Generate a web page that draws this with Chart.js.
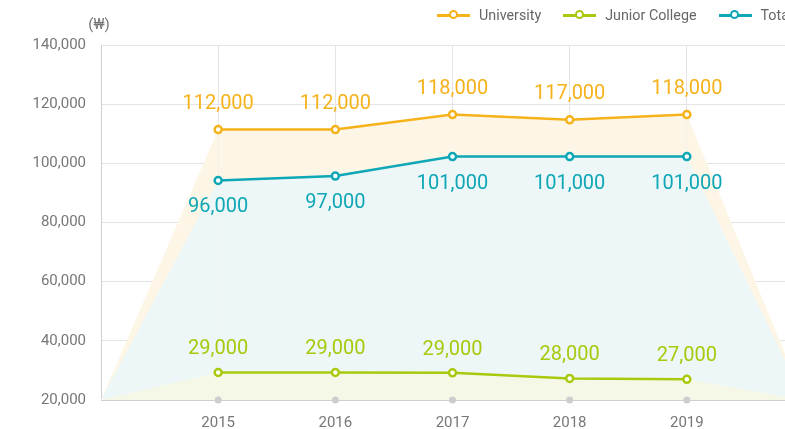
<!DOCTYPE html>
<html>
<head>
<meta charset="utf-8">
<script src="https://cdn.jsdelivr.net/npm/chart.js"></script>
<style>
  html, body { margin: 0; padding: 0; background: #fff; overflow: hidden; }
  #wrap { position: relative; width: 785px; height: 429px; overflow: hidden; }
  #chart { position: absolute; left: 0; top: 0; }
  #legend { position: absolute; top: 6px; left: 437px; display: flex; gap: 22px; font: 14.3px Roboto, sans-serif; color: #666; white-space: nowrap; }
  .item { display: flex; align-items: center; height: 18px; }
  .mark { position: relative; width: 33px; height: 3px; margin-right: 9px; }
  .mark i { position: absolute; left: 11.5px; top: -3.5px; width: 5px; height: 5px; border: 2.5px solid; border-radius: 50%; background: #fff; }
</style>
</head>
<body>
<div id="wrap">
  <canvas id="chart" width="818" height="429"></canvas>
  <div id="legend"></div>
</div>
<script>
// empty categories at both ends carry the area fill down to the axis
const years = ['', '2015', '2016', '2017', '2018', '2019', ''];
const university = [20000, 111400, 111400, 116500, 114700, 116500, 20000];
const juniorCollege = [20000, 29300, 29300, 29200, 27300, 27000, 20000];
const total = [20000, 94200, 95700, 102300, 102300, 102300, 20000];

// numbers printed next to the points
const universityLabels = [null, 112000, 112000, 118000, 117000, 118000, null];
const juniorLabels = [null, 29000, 29000, 29000, 28000, 27000, null];
const totalLabels = [null, 96000, 97000, 101000, 101000, 101000, null];

const axisDots = [null, 20000, 20000, 20000, 20000, 20000, null];
const yTicks = [20000, 40000, 60000, 80000, 100000, 120000, 140000];
const unitLabel = '(₩)';

const isYear = i => years[i] !== '';

function series(label, data, labels, color, fillColor, order, labelOffset) {
    return {
        label: label,
        data: data,
        order: order,
        valueLabels: labels,
        labelOffset: labelOffset,
        borderColor: color,
        backgroundColor: fillColor,
        borderWidth: 2.5,
        fill: 'start',
        tension: 0,
        pointRadius: ctx => isYear(ctx.dataIndex) ? 3.5 : 0,
        pointBorderWidth: 2.5,
        pointBackgroundColor: '#fff',
        pointBorderColor: color,
        segment: {
            borderColor: ctx => (isYear(ctx.p0DataIndex) && isYear(ctx.p1DataIndex)) ? color : 'transparent'
        }
    };
}

const uniSet = series('University', university, universityLabels, '#f6b21b', '#fdf6e6', 3, -26);
const juniorSet = series('Junior College', juniorCollege, juniorLabels, '#a8c90e', '#f6f8e7', 1, -23);
const totalSet = series('Total', total, totalLabels, '#0ea7b6', '#eef7f7', 2, 27);

const valueLabels = {
    id: 'valueLabels',
    afterDatasetsDraw(chart) {
        const ctx = chart.ctx;
        ctx.save();
        ctx.font = '20px Roboto';
        ctx.textAlign = 'center';
        ctx.textBaseline = 'middle';
        chart.data.datasets.forEach((ds, i) => {
            if (!ds.valueLabels) return;
            chart.getDatasetMeta(i).data.forEach((pt, j) => {
                const v = ds.valueLabels[j];
                if (v == null) return;
                ctx.fillStyle = ds.borderColor;
                ctx.fillText(v.toLocaleString('en-US'), pt.x, pt.y + ds.labelOffset);
            });
        });
        ctx.font = '15px Roboto';
        ctx.fillStyle = '#777';
        ctx.fillText(unitLabel, chart.chartArea.left - 2, chart.chartArea.top - 20);
        ctx.restore();
    }
};

const chart = new Chart(document.getElementById('chart'), {
    type: 'line',
    data: {
        labels: years,
        datasets: [
            uniSet, juniorSet, totalSet,
            {
                label: 'axis',
                data: axisDots,
                order: 0,
                showLine: false,
                fill: false,
                clip: false,
                pointRadius: 3.5,
                pointBorderWidth: 0,
                pointBackgroundColor: '#cdcdcd'
            }
        ]
    },
    options: {
        responsive: false,
        animation: false,
        events: [],
        layout: { padding: { top: 45, left: 0, right: 0, bottom: 0 } },
        plugins: {
            legend: { display: false },
            tooltip: { enabled: false }
        },
        scales: {
            x: {
                grid: { color: '#e4e4e4', drawTicks: false },
                border: { color: '#cfcfcf' },
                ticks: { color: '#777', font: { family: 'Roboto', size: 15 }, padding: 14, autoSkip: false, maxRotation: 0 },
                afterFit: s => { s.height = 29; }
            },
            y: {
                min: 20000,
                max: 140000,
                grid: { color: '#e4e4e4', drawTicks: false },
                border: { color: '#cfcfcf' },
                ticks: {
                    color: '#777',
                    font: { family: 'Roboto', size: 15 },
                    padding: 15,
                    callback: v => v.toLocaleString('en-US')
                },
                afterBuildTicks: s => { s.ticks = yTicks.map(v => ({ value: v })); },
                afterFit: s => { s.width = 101; }
            }
        }
    },
    plugins: [valueLabels]
});

// html legend in the same order as the reference
const legend = document.getElementById('legend');
[uniSet, juniorSet, totalSet].forEach(ds => {
    const item = document.createElement('div');
    item.className = 'item';
    item.innerHTML = `<span class="mark" style="background:${ds.borderColor}"><i style="border-color:${ds.borderColor}"></i></span>${ds.label}`;
    legend.appendChild(item);
});
</script>
</body>
</html>
